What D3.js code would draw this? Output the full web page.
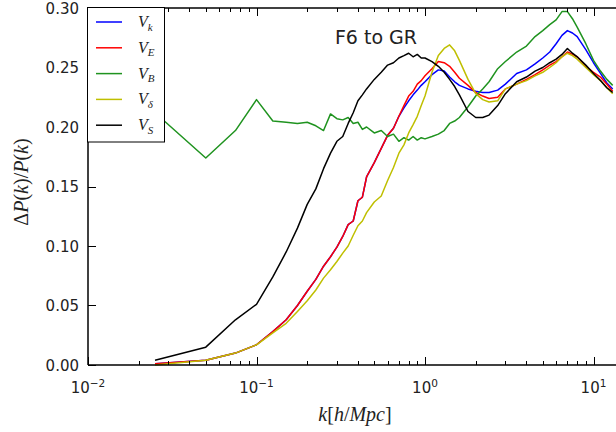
<!DOCTYPE html>
<html>
<head>
<meta charset="utf-8">
<script src="https://cdn.jsdelivr.net/npm/d3@7"></script>
<style>
  body { margin: 0; background: #fff; }
  svg { display: block; }
</style>
</head>
<body>
<div id="wrapper"></div>
<script>
// k in h/Mpc
const kValues = [0.025, 0.05, 0.075, 0.1, 0.125, 0.15, 0.175, 0.2, 0.225, 0.25, 0.275, 0.3, 0.325, 0.35, 0.375, 0.4, 0.425, 0.45, 0.5,
  0.55, 0.6, 0.65, 0.7, 0.75, 0.8, 0.85, 0.9, 0.95, 1.0, 1.1, 1.2, 1.3, 1.4, 1.5, 1.6, 1.8, 2.0, 2.2, 2.4, 2.7, 3.0, 3.5, 4.0, 4.5, 5.0, 5.5,
  6.0, 6.5, 7.0, 7.5, 8.0, 9.0, 10, 11, 12, 13];

const vK = [0.001, 0.004, 0.010, 0.017, 0.028, 0.038, 0.050, 0.062, 0.072, 0.083, 0.091, 0.099, 0.108, 0.118, 0.121, 0.138, 0.141, 0.158, 0.170,
  0.182, 0.193, 0.199, 0.209, 0.216, 0.222, 0.227, 0.231, 0.235, 0.238, 0.244, 0.248, 0.247, 0.242, 0.238, 0.235, 0.232, 0.230, 0.229, 0.229, 0.231, 0.236, 0.245, 0.248, 0.253, 0.258, 0.263,
  0.270, 0.277, 0.281, 0.279, 0.276, 0.265, 0.254, 0.245, 0.237, 0.232];

const vE = [0.001, 0.004, 0.010, 0.017, 0.028, 0.038, 0.050, 0.062, 0.072, 0.083, 0.091, 0.099, 0.108, 0.118, 0.121, 0.138, 0.141, 0.158, 0.170,
  0.182, 0.193, 0.199, 0.209, 0.218, 0.226, 0.230, 0.236, 0.239, 0.243, 0.249, 0.255, 0.254, 0.251, 0.246, 0.241, 0.235, 0.229, 0.226, 0.224, 0.225, 0.232, 0.236, 0.240, 0.244, 0.248, 0.252,
  0.255, 0.259, 0.263, 0.261, 0.259, 0.251, 0.246, 0.242, 0.236, 0.230];

const vB = [0.212, 0.174, 0.197, 0.223, 0.205, 0.204, 0.203, 0.204, 0.201, 0.197, 0.211, 0.207, 0.206, 0.208, 0.203, 0.204, 0.198, 0.200, 0.195,
  0.197, 0.192, 0.194, 0.188, 0.191, 0.189, 0.192, 0.189, 0.191, 0.190, 0.192, 0.194, 0.197, 0.203, 0.205, 0.208, 0.217, 0.226, 0.232, 0.238, 0.249, 0.255, 0.263, 0.268, 0.276, 0.281, 0.286,
  0.290, 0.297, 0.297, 0.291, 0.284, 0.270, 0.256, 0.247, 0.240, 0.235];

const vDelta = [0.000, 0.004, 0.010, 0.017, 0.027, 0.035, 0.045, 0.054, 0.063, 0.073, 0.080, 0.087, 0.094, 0.100, 0.109, 0.117, 0.121, 0.128, 0.137,
  0.142, 0.155, 0.166, 0.178, 0.185, 0.195, 0.202, 0.209, 0.218, 0.226, 0.246, 0.260, 0.266, 0.269, 0.264, 0.256, 0.240, 0.228, 0.223, 0.221, 0.222, 0.232, 0.236, 0.239, 0.243, 0.246, 0.250,
  0.254, 0.259, 0.262, 0.260, 0.257, 0.250, 0.244, 0.239, 0.233, 0.228];

const vS = [0.004, 0.015, 0.038, 0.051, 0.074, 0.095, 0.115, 0.135, 0.148, 0.165, 0.178, 0.188, 0.192, 0.203, 0.212, 0.222, 0.227, 0.232, 0.240,
  0.246, 0.252, 0.254, 0.258, 0.260, 0.262, 0.259, 0.261, 0.258, 0.258, 0.255, 0.251, 0.246, 0.240, 0.234, 0.227, 0.213, 0.208, 0.208, 0.210, 0.218, 0.228, 0.238, 0.242, 0.247, 0.250, 0.254,
  0.257, 0.261, 0.266, 0.262, 0.259, 0.252, 0.245, 0.239, 0.233, 0.229];

const seriesNames = ['k', 'E', 'B', 'δ', 'S'];
const seriesColors = ['#0000ff', '#ff0000', '#1f931f', '#bfbf00', '#000000'];
const yTicks = [0, 0.05, 0.10, 0.15, 0.20, 0.25, 0.30];
const xTickExps = [-2, -1, 0, 1];

const width = 616, height = 432;
const margin = { left: 88, top: 8, bottom: 67 };

const svg = d3.select('#wrapper').append('svg').attr('width', width).attr('height', height);

const x = d3.scaleLog().domain([0.01, 10]).range([margin.left, 593.5]);
const y = d3.scaleLinear().domain([0, 0.30]).range([height - margin.bottom, margin.top]);

// Lines
const series = [vK, vE, vB, vDelta, vS];
const line = d3.line().x((d) => x(d[0])).y((d) => y(d[1]));
series.forEach((vals, i) => {
  svg.append('path')
    .datum(kValues.map((k, j) => [k, vals[j]]))
    .attr('fill', 'none')
    .attr('stroke', seriesColors[i])
    .attr('stroke-width', 1.5)
    .attr('stroke-linejoin', 'round')
    .attr('d', line);
});

// Frame
const axisColor = '#000';
svg.append('line').attr('x1', x(0.01)).attr('x2', width).attr('y1', y(0)).attr('y2', y(0)).attr('stroke', axisColor).attr('stroke-width', 1.5);
svg.append('line').attr('x1', x(0.01)).attr('x2', width).attr('y1', y(0.3)).attr('y2', y(0.3)).attr('stroke', axisColor).attr('stroke-width', 1.5);
svg.append('line').attr('x1', x(0.01)).attr('x2', x(0.01)).attr('y1', y(0)).attr('y2', y(0.3)).attr('stroke', axisColor).attr('stroke-width', 1.5);

// x ticks (inward, top and bottom)
const minor = [];
xTickExps.forEach((e) => { for (let m = 2; m <= 9; m++) minor.push(m * Math.pow(10, e)); });
const ticksG = svg.append('g').attr('stroke', axisColor).attr('stroke-width', 1);
xTickExps.forEach((e) => {
  const px = Math.round(x(Math.pow(10, e))) + 0.5;
  ticksG.append('line').attr('x1', px).attr('x2', px).attr('y1', y(0)).attr('y2', y(0) - 8);
  ticksG.append('line').attr('x1', px).attr('x2', px).attr('y1', y(0.3)).attr('y2', y(0.3) + 8);
});
minor.filter((k) => x(k) < width).forEach((k) => {
  const px = Math.round(x(k)) + 0.5;
  ticksG.append('line').attr('x1', px).attr('x2', px).attr('y1', y(0)).attr('y2', y(0) - 4);
  ticksG.append('line').attr('x1', px).attr('x2', px).attr('y1', y(0.3)).attr('y2', y(0.3) + 4);
});
yTicks.forEach((t) => {
  const py = Math.round(y(t)) + 0.5;
  ticksG.append('line').attr('x1', x(0.01)).attr('x2', x(0.01) + 8).attr('y1', py).attr('y2', py);
});

// Tick labels
const tickFont = "'DejaVu Sans', sans-serif";
svg.append('g').selectAll('text').data(yTicks).join('text')
  .attr('x', 79).attr('y', (d) => y(d) + 5.5)
  .attr('text-anchor', 'end')
  .attr('font-family', tickFont).attr('font-size', 15).attr('fill', '#222')
  .text((d) => d3.format('.2f')(d));

const xl = svg.append('g').selectAll('text').data(xTickExps).join('text')
  .attr('x', (d) => x(Math.pow(10, d)))
  .attr('y', 393)
  .attr('text-anchor', 'middle')
  .attr('font-family', tickFont).attr('font-size', 15).attr('fill', '#222');
xl.append('tspan').text('10');
xl.append('tspan').attr('dy', -6).attr('font-size', 10.5).text((d) => String(d).replace('-', '−'));

// Title
svg.append('text')
  .attr('x', 376).attr('y', 44)
  .attr('text-anchor', 'middle')
  .attr('font-family', tickFont).attr('font-size', 19).attr('fill', '#222')
  .text('F6 to GR');

// Axis labels (math style)
const mathFont = "'Liberation Serif', 'DejaVu Serif', serif";
const xLabel = svg.append('text')
  .attr('x', 355).attr('y', 421)
  .attr('text-anchor', 'middle')
  .attr('font-family', mathFont).attr('font-size', 20).attr('fill', '#222');
[['k', 1], ['[', 0], ['h', 1], ['/', 0], ['Mpc', 1], [']', 0]].forEach(([s, it]) => {
  xLabel.append('tspan').attr('font-style', it ? 'italic' : 'normal').text(s);
});

const yLabel = svg.append('text')
  .attr('transform', 'translate(28,182) rotate(-90)')
  .attr('text-anchor', 'middle')
  .attr('font-family', mathFont).attr('font-size', 20).attr('fill', '#222');
[['Δ', 0], ['P', 1], ['(', 0], ['k', 1], [')', 0], ['/', 0], ['P', 1], ['(', 0], ['k', 1], [')', 0]].forEach(([s, it]) => {
  yLabel.append('tspan').attr('font-style', it ? 'italic' : 'normal').text(s);
});

// Legend
const legend = svg.append('g');
legend.append('rect')
  .attr('x', 87.5).attr('y', 7.5).attr('width', 77).attr('height', 134.5)
  .attr('fill', '#fff').attr('stroke', '#000').attr('stroke-width', 1);
seriesNames.forEach((name, i) => {
  const ly = 22 + i * 25.8;
  legend.append('line')
    .attr('x1', 96).attr('x2', 122).attr('y1', ly).attr('y2', ly)
    .attr('stroke', seriesColors[i]).attr('stroke-width', 1.5);
  const t = legend.append('text')
    .attr('x', 138).attr('y', ly + 5)
    .attr('font-family', mathFont).attr('font-size', 16).attr('font-style', 'italic').attr('fill', '#222');
  t.append('tspan').text('V');
  t.append('tspan').attr('dy', 3.5).attr('font-size', 11).text(name);
});
</script>
</body>
</html>
